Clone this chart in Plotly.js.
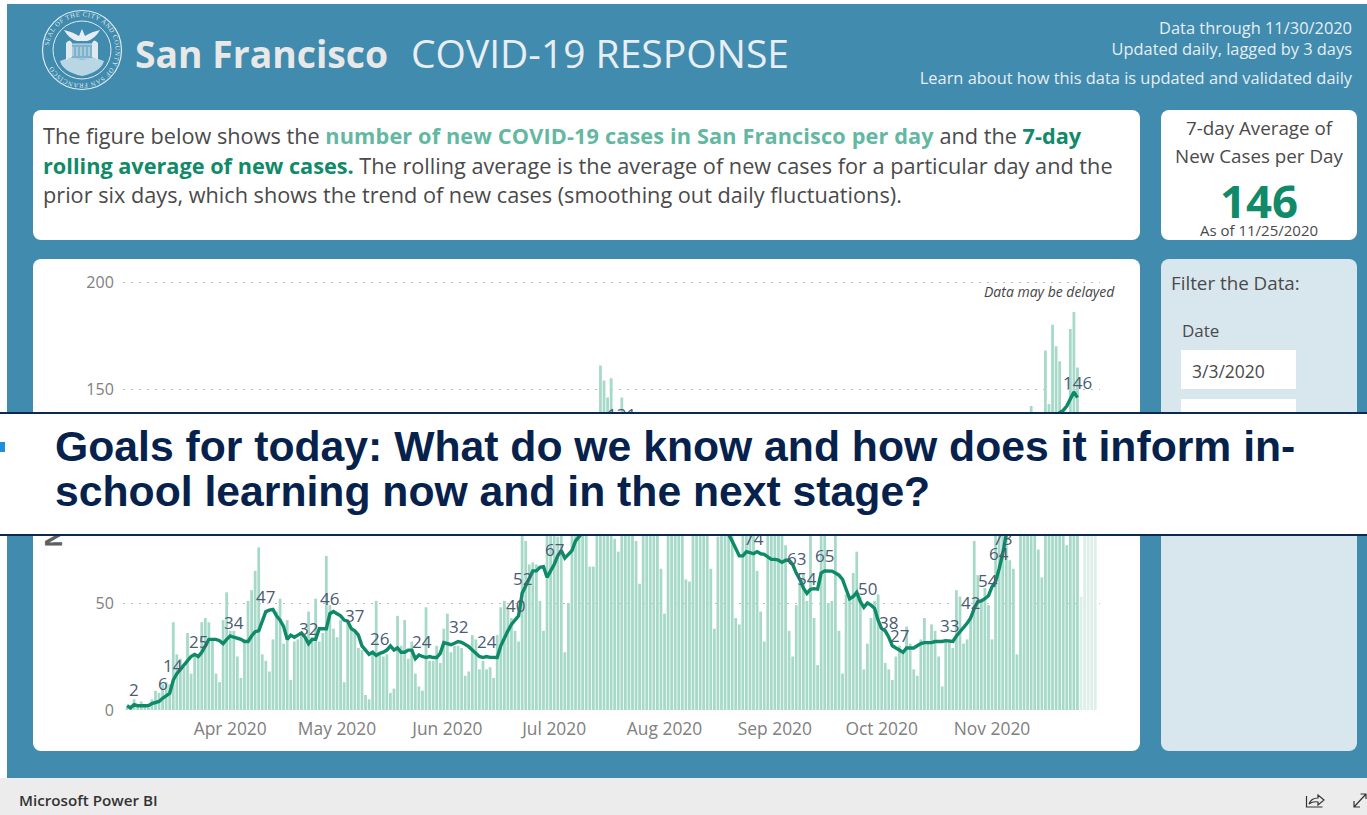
<!DOCTYPE html>
<html><head><meta charset="utf-8">
<script src="https://cdn.plot.ly/plotly-3.0.1.min.js"></script>
<style>
html,body{margin:0;padding:0;background:#fff;width:1367px;height:815px;overflow:hidden;font-family:"Open Sans",sans-serif}
.a{position:absolute;white-space:nowrap}
.panel{position:absolute;background:#fff;border-radius:8px}
#chart{position:absolute;left:0;top:0;width:1367px;height:815px;z-index:2}
#banner{position:absolute;left:0;top:412px;width:1367px;height:120px;background:#fff;border-top:2px solid #0b2a4d;border-bottom:2px solid #0b2a4d;z-index:3}
#banner div{position:absolute;left:55px;font:bold 42.7px/46px "Liberation Sans",Arial,sans-serif;color:#06224c;white-space:nowrap}
</style></head><body>
<div class="a" style="left:7px;top:4px;width:1360px;height:774px;background:#408bae"></div>
<div class="a" style="left:0;top:778px;width:1367px;height:37px;background:#ececec"></div>
<svg class="a" style="left:40px;top:8px" width="84" height="84" viewBox="0 0 84 84">
 <defs><path id="ring" d="M42 42 m-33.5 0 a33.5 33.5 0 1 1 67 0 a33.5 33.5 0 1 1 -67 0"/></defs>
 <circle cx="42" cy="42" r="39.5" fill="none" stroke="#dfeaf0" stroke-width="1.2"/>
 <circle cx="42" cy="42" r="29" fill="none" stroke="#dfeaf0" stroke-width="1"/>
 <text font-family="Liberation Serif" font-size="6.6" fill="#dfeaf0" letter-spacing=".55"><textPath href="#ring" startOffset="2%">SEAL OF THE CITY AND COUNTY OF SAN FRANCISCO</textPath></text>
 <path d="M24 22 Q33 24 39 28 L42 21 L45 28 Q51 24 60 22 Q55 31 47 33 L37 33 Q29 31 24 22 Z" fill="#e6eef3"/>
 <path d="M30 36 h24 v15 h-24 z M33 39 v9 M37 39 v9 M41 39 v9 M45 39 v9 M49 39 v9" fill="#7fb2cb" stroke="#dfeaf0" stroke-width=".9"/>
 <path d="M20 53 q10 -5 22 -1 q12 -4 22 1 q-3 11 -22 15 q-19 -4 -22 -15 z" fill="#b9d6e4"/>
 <path d="M26 35 q4 -5 6 0 l0 14 l-6 3 z M58 35 q-4 -5 -6 0 l0 14 l6 3 z" fill="#dfeaf0"/>
</svg>
<div class="a" style="left:135px;top:29px;font-size:37.3px;line-height:50px;font-weight:700;color:#e8e8e8">San Francisco</div>
<div class="a" style="left:411px;top:28px;font-size:39px;line-height:50px;font-weight:400;color:#e8eef2">COVID-19 RESPONSE</div>
<div class="a" style="right:15px;top:17px;font-size:16.4px;line-height:21px;color:#e6eef3;text-align:right">Data through 11/30/2020<br>Updated daily, lagged by 3 days</div>
<div class="a" style="right:15px;top:67px;font-size:16.4px;line-height:22px;color:#e6eef3">Learn about how this data is updated and validated daily</div>

<div class="panel" style="left:33px;top:110px;width:1107px;height:130px"></div>
<div class="a" style="left:43px;top:121px;font-size:21.7px;line-height:29.5px;color:#4a4a4a">The figure below shows the <b style="color:#63b8a2;letter-spacing:.14px">number of new COVID-19 cases in San Francisco per day</b> and the <b style="color:#108a69">7-day</b><br><b style="color:#108a69">rolling average of new cases.</b> The rolling average is the average of new cases for a particular day and the<br>prior six days, which shows the trend of new cases (smoothing out daily fluctuations).</div>

<div class="panel" style="left:1161px;top:110px;width:196px;height:130px"></div>
<div class="a" style="left:1161px;width:196px;top:114px;font-size:18.8px;line-height:28px;color:#4a4a4a;text-align:center">7-day Average of<br>New Cases per Day</div>
<div class="a" style="left:1161px;width:196px;top:172px;font-size:45.5px;line-height:56px;font-weight:700;color:#108a69;text-align:center">146</div>
<div class="a" style="left:1161px;width:196px;top:220px;font-size:15px;line-height:20px;color:#4a4a4a;text-align:center">As of 11/25/2020</div>

<div class="panel" style="left:33px;top:259px;width:1107px;height:492px"></div>

<div class="panel" style="left:1161px;top:259px;width:196px;height:492px;background:#d8e6ee"></div>
<div class="a" style="left:1171px;top:270px;font-size:18.8px;line-height:26px;color:#4a4a4a">Filter the Data:</div>
<div class="a" style="left:1182px;top:319px;font-size:17px;line-height:24px;color:#4a4a4a">Date</div>
<div class="a" style="left:1181px;top:350px;width:115px;height:39px;background:#fff"></div>
<div class="a" style="left:1192px;top:359px;font-size:17.5px;line-height:24px;color:#4a4a4a">3/3/2020</div>
<div class="a" style="left:1181px;top:399px;width:115px;height:39px;background:#fff"></div>

<div id="chart"></div>

<div id="banner">
 <div style="top:9px">Goals for today: What do we know and how does it inform in-</div>
 <div style="top:54px">school learning now and in the next stage?</div>
 <span style="position:absolute;left:0;top:28px;width:5px;height:10px;background:#1e8fd8"></span>
</div>

<div class="a" style="left:19px;top:790px;font-size:15.2px;line-height:20px;font-weight:600;color:#333;z-index:4">Microsoft Power BI</div>
<svg class="a" style="left:1304px;top:790px;z-index:4" width="63" height="20" viewBox="0 0 63 20" fill="none" stroke="#333" stroke-width="1.2">
 <path d="M2.5 6 v11 h16 M5 14 q2 -6 9 -6 v-3 l6 5 l-6 5 v-3 q-5 -1 -9 2"/>
 <path d="M50 17 L62 4 M50 11 v6 h6 M56.5 4 h5.5 v5"/>
</svg>

<script>
var startDate = '2020-03-03';
var newCases = [
 1,1,5,2,4,2,1,5,9,8,
 12,13,12,41,26,24,20,36,17,26,
 26,41,43,41,33,17,13,42,55,37,
 37,25,15,33,51,56,65,76,26,23,
 18,33,46,52,31,42,14,32,33,36,
 33,46,34,52,32,36,72,49,38,34,
 42,13,42,39,37,29,28,7,5,26,
 51,26,25,26,8,10,44,30,42,24,
 32,17,11,9,48,23,23,30,22,38,
 45,27,30,30,29,16,18,35,33,19,
 23,19,20,15,35,48,51,47,43,37,
 32,95,79,68,69,68,51,37,90,95,
 92,81,90,27,50,95,112,100,118,105,
 67,67,128,161,154,146,155,80,74,146,
 120,110,102,79,59,115,125,118,110,96,
 66,45,98,122,115,104,92,61,60,108,
 118,112,100,92,66,38,81,104,112,100,
 90,43,40,95,108,100,96,65,46,32,
 95,90,88,85,84,77,37,25,49,59,
 64,51,88,43,21,92,95,50,51,88,
 37,17,54,52,64,74,53,19,31,43,
 51,54,37,22,19,14,25,30,28,39,
 31,19,16,33,43,31,40,37,25,11,
 33,33,29,56,53,31,33,44,79,63,
 52,57,49,33,95,90,96,88,70,66,
 26,110,125,135,142,128,75,62,168,143,
 180,170,163,110,77,178,186,160,53,118,
 112,105,100];
var rollingAvg = [
 2,1,2.5,2,2,2,2,3,3.5,4,
 5.5,6.7,7.8,14,17,19,21,23,25,26,
 25,27,30,33,33,33,32.4,31,33,34.6,
 34,33.5,33,32,32,34.6,36.6,37,41,46,
 46.7,47,44,42,39,33,35,34,35,36,
 34,31,33,33,38,38,38,45,46,45,
 44,42,41.5,38,37,35,30,28,26,27,
 25.5,26.5,27,28,30,28,29,27,27,28,
 28,24,25.7,25,24.5,25,24.5,24.5,26.5,31.5,
 31,30.5,31.2,32,31.6,30.5,29.6,28,26.5,25,
 24.5,25,24.6,24.5,24.5,30,34,37,40,42,
 44,54.5,58,62,65,65,66.7,67,62,65,
 68,72,74.5,71,73,74.5,79,81,83,85,
 89,93,97,102,108,113,118,123,127,131,
 130,128,127,125,122,123,120,118,116,117,
 114,112,110,111,108,106,104,105,102,100,
 98,99,96,94,92,90,88,86,84,82,
 79,75,72,72,74,73.5,73,74,73,72.7,
 71.6,70.4,70.4,70,69,70,70,68,64,61,
 57,54.5,56.4,56.7,56.5,64,65,65,64.9,64,
 63,61,56,52,53,55,50.6,48,50,49,
 47.5,42,38,37,34,30,29,28,27,29,
 29,29,30,31,31.5,31.5,31.5,32,32,32,
 32.4,32.3,32,34.6,36.6,38,40.5,43,47.5,50.6,
 51,52,53.4,57.6,60,66,73,82,85,88,
 92,97,102,106,110,114,118,122,126,130,
 134,137,139,140,142,145,148.6,146];
var labelDays = [2,10,13,20,30,39,51,57,64,71,83,93,101,109,111,120,139,176,188,191,196,208,214,217,231,237,242,245,246,267];
var labelText = ['2','6','14','25','34','47','32','46','37','26','24','32','24','40','52','67','131','74','63','54','65','50','38','27','33','42','54','64','73','146'];
var monthTicks = ['2020-04-01','2020-05-01','2020-06-01','2020-07-01','2020-08-01','2020-09-01','2020-10-01','2020-11-01'];
var yTicks = [0,50,100,150,200];
var lastFinalDay = 267;

function dayStr(i){var d=new Date(Date.parse(startDate+'T00:00:00Z')+i*864e5);return d.toISOString().slice(0,10);}
var dates = newCases.map(function(_,i){return dayStr(i);});
var barColors = newCases.map(function(_,i){return i>lastFinalDay?'#dcefe9':'#a7d9c9';});

var annos = labelDays.map(function(d,i){return {
  x:dates[d],y:rollingAvg[d],text:labelText[i],showarrow:false,yshift:15,
  xref:'x',yref:'y',font:{family:'"Open Sans",sans-serif',size:17,color:'#4b5b73'}};});
annos.push({xref:'paper',yref:'paper',x:1.017,y:0.9765,xanchor:'right',yanchor:'middle',showarrow:false,
  text:'<i>Data may be delayed</i>',font:{family:'"Open Sans",sans-serif',size:14,color:'#444'}});
annos.push({xref:'paper',yref:'paper',x:-0.0716,y:0.521,xanchor:'center',yanchor:'middle',showarrow:false,textangle:-90,
  text:'<b>New Cases</b>',font:{family:'"Open Sans",sans-serif',size:23,color:'#5f5f5f'}});

Plotly.newPlot('chart',[
 {type:'bar',x:dates,y:newCases,marker:{color:barColors,line:{width:0}},hoverinfo:'skip',name:'New cases'},
 {type:'scatter',mode:'lines',x:dates.slice(0,rollingAvg.length),y:rollingAvg,line:{color:'#0e8a68',width:3.4},hoverinfo:'skip',name:'7-day average'}
],{
 width:1367,height:815,showlegend:false,bargap:0.22,
 paper_bgcolor:'rgba(0,0,0,0)',plot_bgcolor:'rgba(0,0,0,0)',
 margin:{l:123,r:267,t:281,b:105,pad:0},
 font:{family:'"Open Sans",sans-serif',size:16,color:'#7a7a7a'},
 xaxis:{type:'date',range:['2020-03-01 21:00','2020-12-01 08:00'],tickmode:'array',tickvals:monthTicks,tickformat:'%b %Y',
   showgrid:false,zeroline:false,showline:false,ticks:'outside',ticklen:3,tickcolor:'rgba(0,0,0,0)',tickfont:{size:17.4,color:'#808080'}},
 yaxis:{range:[0,200.47],tickmode:'array',tickvals:yTicks,showgrid:true,gridcolor:'#bdbdbd',griddash:'2px,6px',gridwidth:1,zeroline:false,showline:false,
   ticks:'outside',ticklen:5,tickcolor:'rgba(0,0,0,0)',tickfont:{size:16,color:'#808080'}},
 annotations:annos
},{staticPlot:true,displayModeBar:false});
</script>
</body></html>
